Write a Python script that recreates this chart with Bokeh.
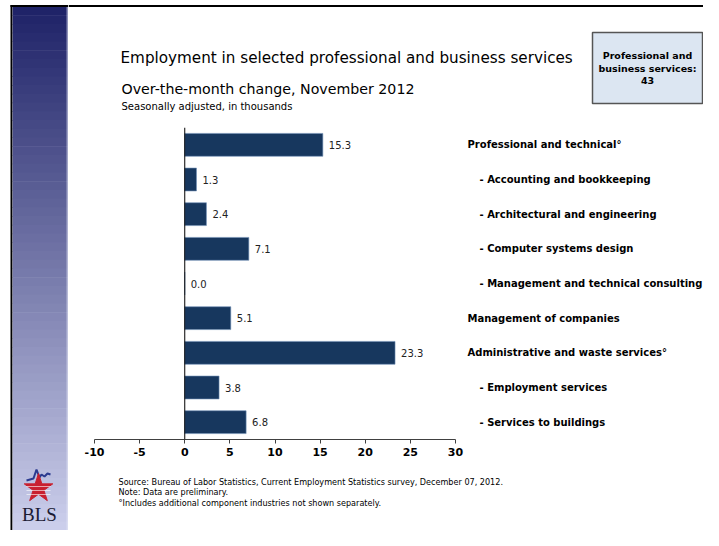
from bokeh.plotting import figure
from bokeh.models import (Range1d, FactorRange, ColumnDataSource, LabelSet, Span, FixedTicker)
from bokeh.layouts import row, column
from bokeh.core.properties import value
from bokeh.embed import file_html
from bokeh.resources import INLINE

# ---- data ----
categories = [
    "Professional and technical\u00b0",
    "- Accounting and bookkeeping",
    "- Architectural and engineering",
    "- Computer systems design",
    "- Management and technical consulting",
    "Management of companies",
    "Administrative and waste services\u00b0",
    "- Employment services",
    "- Services to buildings",
]
values = [15.3, 1.3, 2.4, 7.1, 0.0, 5.1, 23.3, 3.8, 6.8]
value_labels = ["15.3", "1.3", "2.4", "7.1", "0.0", "5.1", "23.3", "3.8", "6.8"]
x_ticks = [-10, -5, 0, 5, 10, 15, 20, 25, 30]
x_tick_labels = ["-10", "-5", "0", "5", "10", "15", "20", "25", "30"]
title_text = "Employment in selected professional and business services"
subtitle_text = "Over-the-month change, November 2012"
note_text = "Seasonally adjusted, in thousands"
box_lines = ["Professional and", "business services:", "43"]
footnotes = [
    "Source: Bureau of Labor Statistics, Current Employment Statistics survey, December 07, 2012.",
    "Note: Data are preliminary.",
    "\u00b0Includes additional component industries not shown separately.",
]

FONT = "DejaVu Sans"
W, H = 703, 530
STRIP_W = 68
HEAD_H = 115
MAIN_H = 355
FOOT_H = H - HEAD_H - MAIN_H
BAR = "#17375E"


def canvas_fig(w, h, x0, y0):
    """A decoration figure whose frame is its whole canvas, in page pixels (y down)."""
    f = figure(width=w, height=h, output_backend="svg", toolbar_location=None,
               x_range=Range1d(x0, x0 + w), y_range=Range1d(y0 + h, y0),
               min_border=0)
    f.frame_align = False
    f.axis.visible = False
    f.grid.visible = False
    f.outline_line_color = None
    f.background_fill_color = "white"
    f.border_fill_color = "white"
    return f


def txt(f, x, y, s, size, style="normal", align="left", font=FONT, color="black"):
    f.text(x=[x], y=[y], text=[s], text_font=value(font), text_font_size=value(size),
           text_font_style=style, text_align=align, text_baseline="middle",
           text_color=color)


# ---- left strip (gradient + logo) ----
strip = canvas_fig(STRIP_W, H, 0, 0)
c0 = (0x1F, 0x23, 0x68)
c1 = (0xCB, 0xCE, 0xEB)
n = 60
tops, bots, cols = [], [], []
for i in range(n):
    t = i / (n - 1)
    cols.append("#%02x%02x%02x" % tuple(int(round(a + (b - a) * t)) for a, b in zip(c0, c1)))
    tops.append(6 + i * (H - 6) / n)
    bots.append(6 + (i + 1) * (H - 6) / n + 0.6)
strip.quad(left=12, right=STRIP_W, top=tops, bottom=bots, fill_color=cols, line_color=None)
strip.quad(left=66, right=STRIP_W, top=6, bottom=H, fill_color="#E8E9F6", fill_alpha=0.55,
           line_color=None)
strip.quad(left=10, right=STRIP_W, top=4.5, bottom=6.5, fill_color="black", line_color=None)
strip.quad(left=10, right=11.8, top=4.5, bottom=H, fill_color="black", line_color=None)
# BLS logo
strip.line(x=[26, 33, 36, 39, 41, 44, 47, 50], y=[480, 478, 469, 477, 474, 476, 473, 474],
           line_color="#2B3A8F", line_width=2)
strip.scatter(x=[38], y=[488], marker="star", size=30, fill_color="#C8202F",
              line_color="#C8202F")
for yy in [486, 490, 494]:
    strip.segment(x0=[26], x1=[50], y0=[yy], y1=[yy], line_color="white", line_width=1,
                  line_alpha=0.6)
txt(strip, 39, 514, "BLS", "19px", align="center", font="Liberation Serif", color="#1A1A33")

# ---- header ----
head = canvas_fig(W - STRIP_W, HEAD_H, STRIP_W, 0)
head.quad(left=STRIP_W, right=W, top=4.5, bottom=6.5, fill_color="black", line_color=None)
txt(head, 120, 57, title_text, "15.2px")
txt(head, 121, 88, subtitle_text, "14.2px")
txt(head, 121, 105.5, note_text, "10px")
head.quad(left=592, right=702, top=32, bottom=103, fill_color="#DCE6F2",
          line_color="#555555", line_width=1.5)
for i, line in enumerate(box_lines):
    txt(head, 647, 55 + i * 12.5, line, "9.5px", style="bold", align="center")

# ---- main chart ----
frame_left, frame_top, frame_h = 26, 12, 312
frame_w = W - STRIP_W - frame_left
px_per_unit = 361 / 40.0
p = figure(width=W - STRIP_W, height=MAIN_H, output_backend="svg", toolbar_location=None,
           x_range=Range1d(-10, -10 + frame_w / px_per_unit),
           y_range=FactorRange(factors=list(reversed(categories))),
           min_border_left=frame_left, min_border_right=0,
           min_border_top=frame_top,
           min_border_bottom=MAIN_H - frame_top - frame_h)
p.frame_align = False
p.background_fill_color = "white"
p.border_fill_color = "white"
p.outline_line_color = None
p.grid.visible = False
p.yaxis.visible = False

xa = p.xaxis[0]
xa.bounds = (x_ticks[0], x_ticks[-1])
xa.ticker = FixedTicker(ticks=x_ticks)
xa.major_label_overrides = {t: s for t, s in zip(x_ticks, x_tick_labels)}
xa.minor_tick_line_color = None
xa.major_tick_in = 0
xa.major_tick_out = 4
xa.axis_line_color = "#404040"
xa.major_tick_line_color = "#404040"
xa.major_label_text_font = FONT
xa.major_label_text_font_style = "bold"
xa.major_label_text_font_size = "11px"
xa.major_label_text_color = "black"
xa.major_label_standoff = 4

src = ColumnDataSource(dict(
    cat=categories, val=values, lab=value_labels,
    xr=[x_ticks[-1]] * len(categories),
    off=[24 if c.startswith("-") else 12 for c in categories],
))
p.hbar(y="cat", left=0, right="val", height=0.66, source=src,
       fill_color=BAR, line_color="#6F8FB5", line_width=0.6)
p.add_layout(Span(location=0, dimension="height", line_color="black", line_width=1))
p.add_layout(LabelSet(x="val", y="cat", text="lab", source=src, x_offset=6,
                      text_font=value(FONT), text_font_size=value("10px"),
                      text_color="#222222", text_baseline="middle", text_align="left"))
p.add_layout(LabelSet(x="xr", y="cat", text="cat", source=src, x_offset="off",
                      text_font=value(FONT), text_font_size=value("10px"),
                      text_font_style="bold", text_color="black",
                      text_baseline="middle", text_align="left"))

# ---- footer ----
foot = canvas_fig(W - STRIP_W, FOOT_H, STRIP_W, HEAD_H + MAIN_H)
for i, line in enumerate(footnotes):
    txt(foot, 118, 481 + i * 10.5, line, "8.1px")

layout = row(strip, column(head, p, foot))
open("out.html", "w").write(file_html(layout, INLINE))
